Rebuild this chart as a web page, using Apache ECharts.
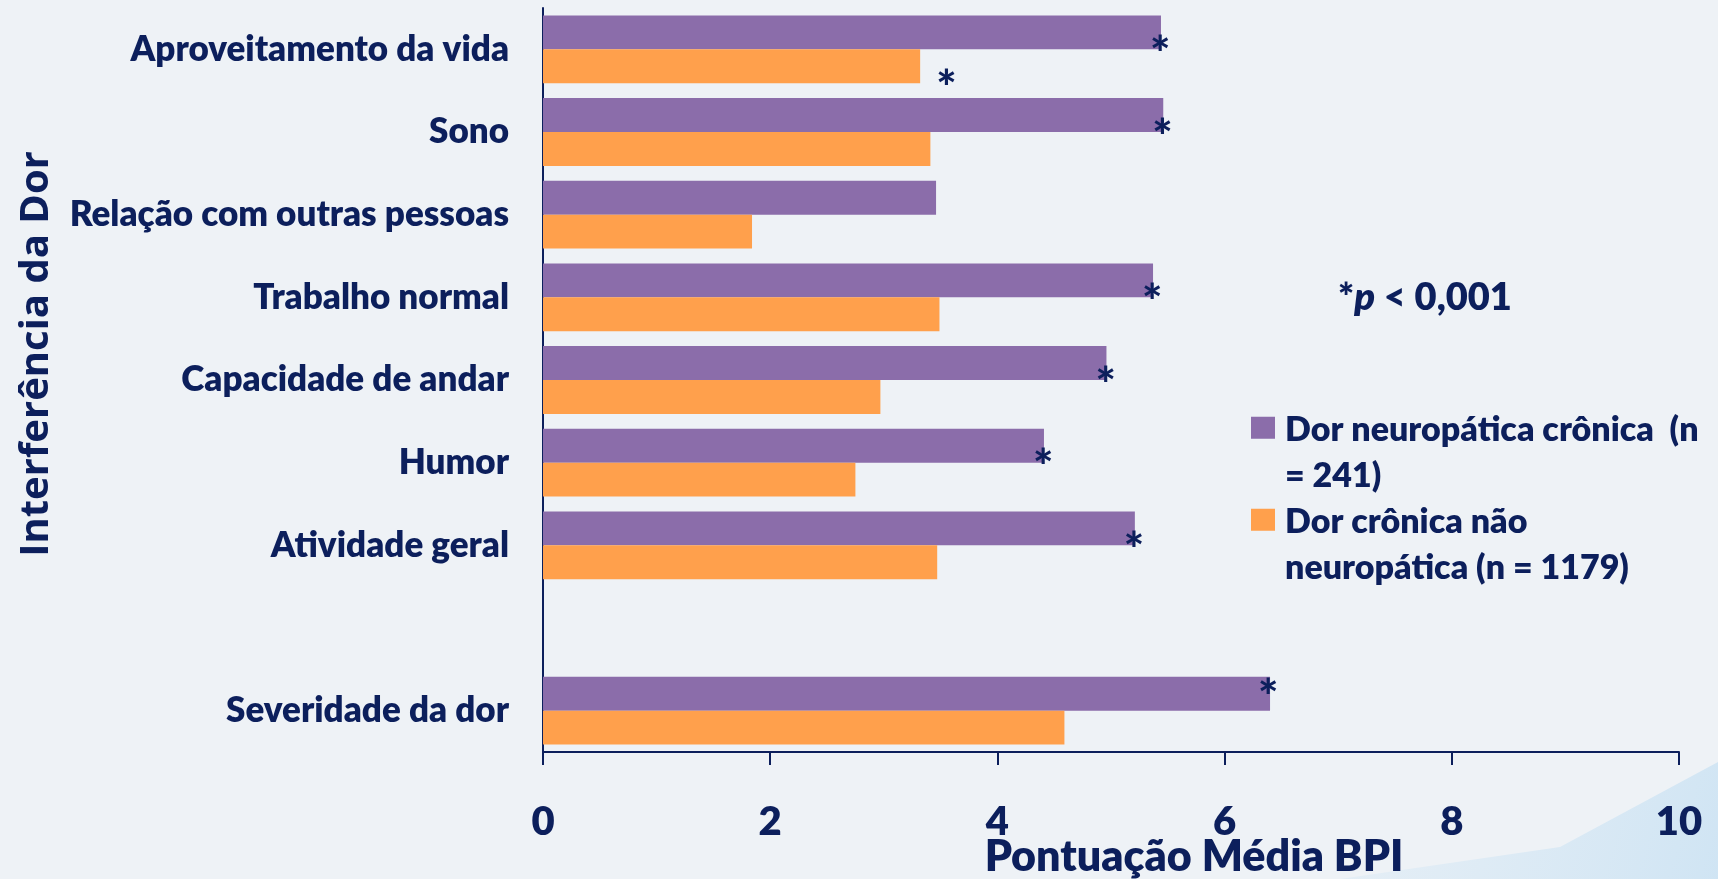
<!DOCTYPE html>
<html>
<head>
<meta charset="utf-8">
<title>Interferência da Dor - Pontuação Média BPI</title>
<script src="https://cdn.jsdelivr.net/npm/echarts@6/dist/echarts.min.js"></script>
<style>
    html, body { margin: 0; padding: 0; background: #eef2f6; }
    #main { width: 1718px; height: 879px; }
</style>
</head>
<body>
<div id="main"></div>
<script type="text/javascript">
    // categorias (a vazia separa a severidade dos itens de interferência)
    var categorias = ['Aproveitamento da vida', 'Sono', 'Relação com outras pessoas', 'Trabalho normal',
        'Capacidade de andar', 'Humor', 'Atividade geral', '', 'Severidade da dor'];
    var neuropatica = [5.44, 5.46, 3.46, 5.37, 4.96, 4.41, 5.21, '-', 6.40];
    var naoNeuropatica = [3.32, 3.41, 1.84, 3.49, 2.97, 2.75, 3.47, '-', 4.59];
    // 1 = asterisco (p < 0,001)
    var sigNeuropatica = [1, 1, 0, 1, 1, 1, 1, 0, 1];
    var sigNaoNeuropatica = [1, 0, 0, 0, 0, 0, 0, 0, 0];
    var nomesSeries = ['Dor neuropática crônica  (n\n= 241)', 'Dor crônica não\nneuropática (n = 1179)'];
    var eixoX = { min: 0, max: 10, interval: 2 };

    var azul = '#0c1f5c';
    var fonte = 'Lato, "Noto Sans", sans-serif';
    var peso = 800;

    var myChart = echarts.init(document.getElementById('main'));

    // icone quadrado alinhado com a primeira linha do texto da legenda
    var iconeLegenda = 'path://M0,0L24,0L24,22L0,22Z M0,72.6L0.01,72.6';

    var option = {
        backgroundColor: '#eef2f6',
        animation: false,
        color: ['#8b6daa', '#ffa04c'],
        grid: { left: 543, right: 39, top: 8, bottom: 127, containLabel: false, outerBoundsMode: 'none' },
        graphic: [
            {
                type: 'polygon',
                z: -10,
                silent: true,
                shape: { points: [[1340, 879], [1560, 847], [1718, 762], [1718, 879]] },
                style: {
                    fill: new echarts.graphic.LinearGradient(0, 0, 1, 1, [
                        { offset: 0, color: 'rgba(214,232,245,0.35)' },
                        { offset: 1, color: 'rgba(200,225,243,0.8)' }
                    ])
                }
            },
            {
                type: 'text',
                left: 1338,
                top: 279,
                style: {
                    text: '{a|*}{b|p}{a| < 0,001}',
                    rich: {
                        a: { fontSize: 38, fontWeight: peso, fill: azul, fontFamily: fonte },
                        b: { fontSize: 38, fontWeight: peso, fontStyle: 'italic', fill: azul, fontFamily: fonte }
                    }
                }
            }
        ],
        legend: {
            orient: 'vertical',
            left: 1246,
            top: 402,
            itemGap: 0,
            itemWidth: 24,
            itemHeight: 72.6,
            icon: iconeLegenda,
            selectedMode: false,
            data: nomesSeries,
            textStyle: {
                color: azul,
                fontSize: 34,
                fontWeight: peso,
                fontFamily: fonte,
                lineHeight: 46,
                padding: [0, 0, 0, 5]
            }
        },
        xAxis: {
            type: 'value',
            min: eixoX.min,
            max: eixoX.max,
            interval: eixoX.interval,
            name: 'Pontuação Média BPI',
            nameLocation: 'middle',
            nameGap: 84,
            nameMoveOverlap: false,
            nameTextStyle: {
                color: azul, fontSize: 43, fontWeight: peso, fontFamily: fonte,
                padding: [0, 0, 0, 166]
            },
            axisLine: { show: true, lineStyle: { color: azul, width: 2 } },
            axisTick: { show: true, length: 13, lineStyle: { color: azul, width: 2 } },
            splitLine: { show: false },
            axisLabel: { color: azul, fontSize: 40, fontWeight: peso, fontFamily: fonte, margin: 50 }
        },
        yAxis: {
            type: 'category',
            inverse: true,
            data: categorias,
            name: 'Interferência da Dor',
            nameLocation: 'middle',
            nameGap: 486,
            nameMoveOverlap: false,
            nameTextStyle: {
                color: azul, fontSize: 40, fontWeight: 'bold', fontFamily: '"Open Sans", sans-serif',
                padding: [0, 0, 0, 52]
            },
            axisLine: { show: true, lineStyle: { color: azul, width: 2 } },
            axisTick: { show: false },
            axisLabel: { color: azul, fontSize: 35, fontWeight: peso, fontFamily: fonte, margin: 34 }
        },
        series: [
            {
                name: nomesSeries[0],
                type: 'bar',
                barGap: '0%',
                barCategoryGap: '18%',
                data: neuropatica.map(function (v, i) {
                    // na severidade o asterisco fica no alto da barra
                    if (categorias[i] === 'Severidade da dor') {
                        return { value: v, label: { offset: [-12, 5] } };
                    }
                    return v;
                }),
                label: {
                    show: true,
                    position: 'right',
                    distance: 0,
                    offset: [-11, 23],
                    color: azul,
                    fontSize: 48,
                    fontWeight: 900,
                    fontFamily: fonte,
                    formatter: function (p) { return sigNeuropatica[p.dataIndex] ? '*' : ''; }
                }
            },
            {
                name: nomesSeries[1],
                type: 'bar',
                barGap: '0%',
                barCategoryGap: '18%',
                data: naoNeuropatica,
                label: {
                    show: true,
                    position: 'right',
                    distance: 0,
                    offset: [16, 23],
                    color: azul,
                    fontSize: 48,
                    fontWeight: 900,
                    fontFamily: fonte,
                    formatter: function (p) { return sigNaoNeuropatica[p.dataIndex] ? '*' : ''; }
                }
            }
        ]
    };
    myChart.setOption(option);
</script>
</body>
</html>
